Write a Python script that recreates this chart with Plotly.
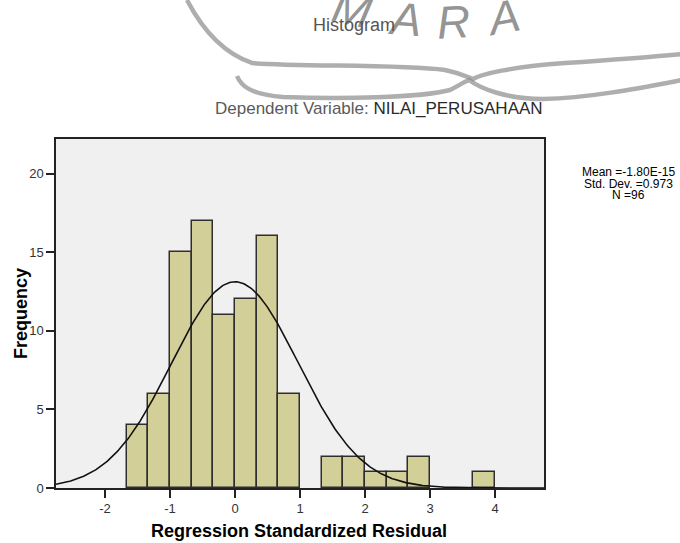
import numpy as np
import plotly.graph_objects as go

# ---- data ----
bin_left_edges = [-5/3, -4/3, -1.0, -2/3, -1/3, 0.0, 1/3, 2/3, 1.0, 4/3, 5/3, 2.0, 7/3, 8/3, 3.0, 10/3, 11/3]
bin_counts     = [4, 6, 15, 17, 11, 12, 16, 6, 0, 2, 2, 1, 1, 2, 0, 0, 1]
bin_width = 1/3
stat_mean = -1.80e-15
stat_sd = 0.973
stat_n = 96
x_ticks = [-2, -1, 0, 1, 2, 3, 4]
y_ticks = [0, 5, 10, 15, 20]
title_text = "Histogram"
subtitle_prefix = "Dependent Variable: "
subtitle_var = "NILAI_PERUSAHAAN"
stats_lines = ["Mean =-1.80E-15", "Std. Dev. =0.973", "N =96"]
x_title = "Regression Standardized Residual"
y_title = "Frequency"

W, H = 680, 543
L, R, T, B = 56, 544, 139, 488
XR = [-2.754, 4.754]
YR = [0, 22.2]

FONT = "Liberation Sans, Arial, sans-serif"

fig = go.Figure()

xs = [e + bin_width / 2 for e, c in zip(bin_left_edges, bin_counts) if c > 0]
ys = [c for c in bin_counts if c > 0]
fig.add_trace(go.Bar(
    x=xs, y=ys, width=bin_width,
    marker=dict(color="#d3cf98", line=dict(color="#2e2e2e", width=1.5)),
    showlegend=False, hoverinfo="skip",
))

cx = np.linspace(XR[0], XR[1], 400)
cy = stat_n * bin_width * np.exp(-0.5 * ((cx - stat_mean) / stat_sd) ** 2) / (stat_sd * np.sqrt(2 * np.pi))
fig.add_trace(go.Scatter(x=cx, y=cy, mode="lines", line=dict(color="#111111", width=1.6),
                         showlegend=False, hoverinfo="skip", cliponaxis=True))


def px(x):
    return (x - L) / (R - L)


def py(y):
    return (B - y) / (B - T)


def P(x, y):
    return f"{px(x):.4f},{py(y):.4f}"


# faint watermark of the scanned document
wm1 = (f"M {P(187, 0)} C {P(200, 25)} {P(220, 52)} {P(252, 63)} "
       f"C {P(300, 67)} {P(400, 64)} {P(445, 70)} C {P(460, 73)} {P(468, 77)} {P(473, 79)} "
       f"C {P(482, 74)} {P(510, 67)} {P(565, 63)} C {P(610, 60)} {P(650, 57)} {P(682, 54)}")
wm2 = (f"M {P(237, 76)} C {P(241, 86)} {P(250, 94)} {P(283, 97)} "
       f"C {P(340, 99)} {P(420, 98)} {P(450, 90)} C {P(458, 86)} {P(464, 82)} {P(469, 80)} "
       f"C {P(480, 88)} {P(505, 99)} {P(543, 99)} C {P(590, 98)} {P(640, 88)} {P(682, 80)}")
shapes = []
for p in (wm1, wm2):
    shapes.append(dict(type="path", path=p, xref="paper", yref="paper",
                       line=dict(color="rgba(140,140,140,0.7)", width=4.5), layer="below"))

annotations = []
for ch, cxp, cyp, ang in [("M", 352, 9, 12), ("A", 405, 19, 4), ("R", 453, 22, -3), ("A", 503, 17, -10)]:
    annotations.append(dict(text=f"<i>{ch}</i>", x=px(cxp), y=py(cyp), xref="paper", yref="paper",
                            showarrow=False, textangle=ang,
                            font=dict(family=FONT, size=46, color="rgba(120,120,120,0.8)"),
                            xanchor="center", yanchor="middle"))

annotations += [
    dict(text=title_text, x=px(354), y=py(25), xref="paper", yref="paper",
         showarrow=False, font=dict(family=FONT, size=18, color="#555555"),
         xanchor="center", yanchor="middle"),
    dict(text=f"<span style='color:#5a5a5a'>{subtitle_prefix}</span>"
              f"<span style='color:#2a2a2a'>{subtitle_var}</span>",
         x=px(379), y=py(109), xref="paper", yref="paper",
         showarrow=False, font=dict(family=FONT, size=17, color="#555555"),
         xanchor="center", yanchor="middle"),
    dict(text=f"<b>{y_title}</b>", x=px(21), y=py(314), xref="paper", yref="paper",
         showarrow=False, textangle=-90, font=dict(family=FONT, size=18, color="#000000"),
         xanchor="center", yanchor="middle"),
    dict(text=f"<b>{x_title}</b>", x=px(299), y=py(531), xref="paper", yref="paper",
         showarrow=False, font=dict(family=FONT, size=18, color="#000000"),
         xanchor="center", yanchor="middle"),
]
for i, line in enumerate(stats_lines):
    annotations.append(dict(text=line, x=px(628), y=py(172 + 11.5 * i),
                            xref="paper", yref="paper", showarrow=False,
                            font=dict(family=FONT, size=12, color="#000000"),
                            xanchor="center", yanchor="middle"))

fig.update_layout(
    template="none",
    width=W, height=H,
    margin=dict(l=L, r=W - R, t=T, b=H - B, pad=0),
    paper_bgcolor="white", plot_bgcolor="#f0f0f0",
    bargap=0, shapes=shapes, annotations=annotations,
    font=dict(family=FONT, size=13, color="#333333"),
    showlegend=False,
)
axis_common = dict(ticks="outside", ticklen=8, tickcolor="#222222", tickwidth=1.5,
                   showgrid=False, zeroline=False, showline=True, linecolor="#222222",
                   linewidth=1.5, mirror=True, tickfont=dict(family=FONT, size=13, color="#333333"))
fig.update_xaxes(range=XR, tickvals=x_ticks, ticktext=[str(t) for t in x_ticks], **axis_common)
fig.update_yaxes(range=YR, tickvals=y_ticks, ticktext=[str(t) for t in y_ticks], **axis_common)

fig.write_html("out.html", config={"displayModeBar": False},
               post_script="document.body.style.margin='0px';document.body.style.overflow='hidden';")
